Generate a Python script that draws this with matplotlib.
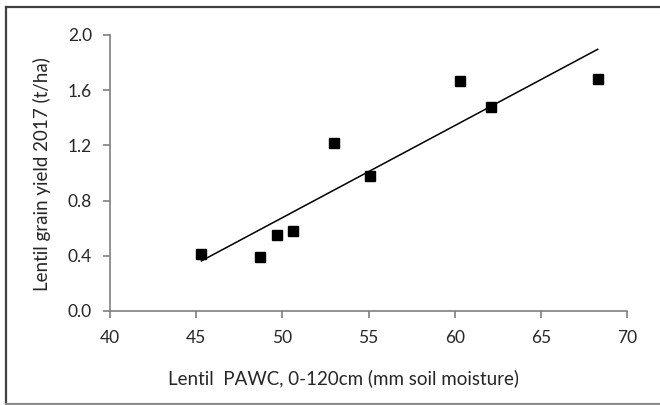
import numpy as np
from matplotlib import pyplot as plt
from matplotlib.lines import Line2D

# Plant-available water capacity vs. lentil yield, 2017
pawc = [45.3, 48.7, 49.7, 50.6, 53.0, 55.1, 60.3, 62.1, 68.3]
grain_yield = [0.41, 0.39, 0.55, 0.58, 1.22, 0.98, 1.67, 1.48, 1.68]

x_ticks = [40, 45, 50, 55, 60, 65, 70]
y_ticks = [0.0, 0.4, 0.8, 1.2, 1.6, 2.0]

plt.rcParams['font.family'] = ['Lato', 'DejaVu Sans']

fig = plt.figure(figsize=(6.6, 4.05), dpi=100)
ax = fig.add_axes([0.1667, 0.2321, 0.7833, 0.6815])

# Least-squares trend line over the observed range:
slope, intercept = np.polyfit(pawc, grain_yield, 1)
x_fit = np.array([min(pawc), max(pawc)])
ax.plot(x_fit, slope * x_fit + intercept, color='black', lw=1.1, zorder=2)
ax.plot(pawc, grain_yield, ls='none', marker='s', ms=7.5, color='black', zorder=3)

## Axes styling:
axis_grey = '#7f7f7f'
text_col = '#262626'
for side in ['top', 'right']:
    ax.spines[side].set_visible(False)
for side in ['left', 'bottom']:
    ax.spines[side].set_color(axis_grey)
    ax.spines[side].set_linewidth(1.2)
ax.set_xlim(40, 70)
ax.set_ylim(0, 2.0)
ax.set_xticks(x_ticks)
ax.set_yticks(y_ticks)
ax.set_yticklabels(['%.1f' % v for v in y_ticks])
ax.tick_params(axis='both', direction='out', length=5, width=1.2, color=axis_grey,
               labelsize=12.5, labelcolor=text_col)
ax.tick_params(axis='y', pad=8)
ax.tick_params(axis='x', pad=9)
ax.set_xlabel('Lentil  PAWC, 0-120cm (mm soil moisture)', fontsize=13.5, color=text_col)
ax.set_ylabel('Lentil grain yield 2017 (t/ha)', fontsize=13.5, color=text_col)
ax.xaxis.label.set_va('center')
ax.yaxis.label.set_va('center')
ax.xaxis.set_label_coords(0.451, -0.243)
ax.yaxis.set_label_coords(-0.1315, 0.495)

## Outer frame (left, top and bottom edges):
frame_kw = dict(transform=fig.transFigure, lw=1.6)
fig.add_artist(Line2D([6.5 / 660, 6.5 / 660], [1 / 405, 398.5 / 405], color='#404040', **frame_kw))
fig.add_artist(Line2D([6.5 / 660, 1.0], [398.5 / 405, 398.5 / 405], color='#404040', **frame_kw))
fig.add_artist(Line2D([6.5 / 660, 1.0], [1.5 / 405, 1.5 / 405], color='#8c8c8c', **frame_kw))

fig.savefig('out.png', dpi=100)
